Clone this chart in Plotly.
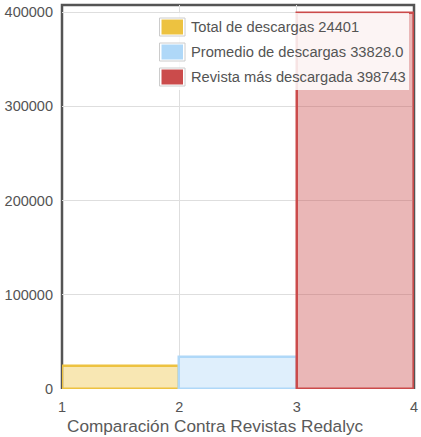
import plotly.graph_objects as go

# ---- data ----
series_names = ["Total de descargas", "Promedio de descargas", "Revista más descargada"]
series_value_labels = ["24401", "33828.0", "398743"]
series_x = [1, 2, 3]
series_values = [24401, 33828.0, 398743]
line_colors = ["#edc240", "#afd8f8", "#cb4b4b"]
fill_colors = ["rgba(237,194,64,0.4)", "rgba(175,216,248,0.4)", "rgba(203,75,75,0.4)"]
x_ticks = [1, 2, 3, 4]
y_ticks = [0, 100000, 200000, 300000, 400000]
x_title = "Comparación Contra Revistas Redalyc"

W, H = 421, 437
ML, MR, MT, MB = 62, 7, 5, 48
PW = W - ML - MR
PH = H - MT - MB

def px(x):
    return (x - ML) / PW

def py(y):
    return (H - MB - y) / PH

FONT = "Liberation Sans, Arial, sans-serif"
TXT = "#545454"

fig = go.Figure()
for name, xv, val, lc, fc in zip(series_names, series_x, series_values, line_colors, fill_colors):
    fig.add_trace(go.Bar(
        x=[xv], y=[val], width=1, offset=0, name=name,
        marker=dict(color=fc, line=dict(color=lc, width=2.5)),
        showlegend=False, hoverinfo="skip",
    ))

shapes = []
# plot border: left, top, right (bottom is covered by bars in reference)
shapes.append(dict(type="path", xref="paper", yref="paper",
                   path="M 0,0 L 0,1 L 1,1 L 1,0",
                   line=dict(color="#545454", width=2.5), layer="below"))
# manual flot-style legend
shapes.append(dict(type="rect", xref="paper", yref="paper",
                   x0=px(155), x1=px(409), y0=py(90), y1=py(13),
                   fillcolor="rgba(255,255,255,0.85)", line=dict(width=0), layer="above"))
annotations = []
row_centers = [27, 52, 77]
for i, (name, vl, lc) in enumerate(zip(series_names, series_value_labels, line_colors)):
    cy = row_centers[i]
    shapes.append(dict(type="rect", xref="paper", yref="paper",
                       x0=px(159.5), x1=px(185), y0=py(cy + 9), y1=py(cy - 9),
                       fillcolor="white", line=dict(color="#cccccc", width=1), layer="above"))
    shapes.append(dict(type="rect", xref="paper", yref="paper",
                       x0=px(161.5), x1=px(183), y0=py(cy + 7.5), y1=py(cy - 7.5),
                       fillcolor=lc, line=dict(width=0), layer="above"))
    annotations.append(dict(xref="paper", yref="paper", x=px(189), y=py(cy),
                            xanchor="left", yanchor="middle", showarrow=False,
                            text=f"{name} {vl}",
                            font=dict(family=FONT, size=14.7, color=TXT)))

# axis title (centred on the whole canvas, as in the reference)
annotations.append(dict(xref="paper", yref="paper", x=px(215), y=py(425.5),
                        xanchor="center", yanchor="middle", showarrow=False,
                        text=x_title,
                        font=dict(family=FONT, size=17.2, color="#5a5a5a")))

fig.update_layout(
    width=W, height=H,
    margin=dict(l=ML, r=MR, t=MT, b=MB, pad=0),
    paper_bgcolor="white", plot_bgcolor="white",
    barmode="overlay",
    bargap=0,
    shapes=shapes,
    annotations=annotations,
    font=dict(family=FONT, color=TXT),
    xaxis=dict(
        range=[1, 4], tickvals=x_ticks, ticktext=[str(t) for t in x_ticks],
        showgrid=True, gridcolor="#dedede", gridwidth=1,
        showline=False, zeroline=False, ticks="", ticklabelstandoff=7,
        tickfont=dict(family=FONT, size=14.5, color=TXT),
        automargin=False, fixedrange=True,
    ),
    yaxis=dict(
        range=[0, 407500], tickvals=y_ticks, ticktext=[str(t) for t in y_ticks],
        showgrid=True, gridcolor="#dedede", gridwidth=1,
        showline=False, zeroline=False, ticks="", ticklabelstandoff=8,
        tickfont=dict(family=FONT, size=14.5, color=TXT),
        automargin=False, fixedrange=True,
    ),
)

fig.write_html("out.html", config={"displayModeBar": False},
               post_script="document.body.style.margin='0';document.body.style.overflow='hidden';")
